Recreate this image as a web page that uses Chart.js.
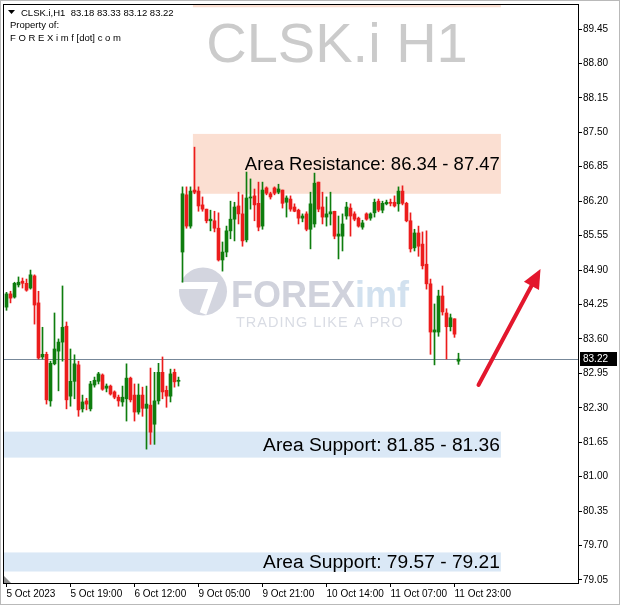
<!DOCTYPE html>
<html>
<head>
<meta charset="utf-8">
<script src="https://cdn.jsdelivr.net/npm/chart.js@4.4.0/dist/chart.umd.min.js"></script>
<style>
  html, body { margin: 0; padding: 0; background: #fff; }
</style>
</head>
<body>
<canvas id="chart" width="620" height="606"></canvas>
<script>
// CLSK.i H1 candles (oldest first)
const opens = [
  84.20, 84.45, 84.39, 84.62, 84.69, 84.65, 84.56, 84.79, 84.28, 83.26,
  83.31, 82.43, 83.13, 83.37, 83.54, 83.84, 82.52, 82.80, 83.11, 82.28,
  82.43, 82.28, 82.73, 82.80, 82.92, 82.67, 82.71, 82.60, 82.50, 82.41,
  82.47, 82.86, 82.54, 82.22, 82.54, 82.29, 82.35, 81.99, 82.43, 82.97,
  82.63, 82.52, 82.97, 82.80,
  85.24, 86.32, 85.73, 86.41, 86.39, 86.13,
  86.05, 85.83, 85.83, 85.69, 85.09, 85.24, 85.64, 85.86, 86.11, 85.96,
  85.47, 86.26, 86.30, 86.16, 85.73, 86.45, 86.34, 86.45, 86.37, 86.41,
  86.18, 86.24, 86.09, 86.03, 85.88, 85.96, 85.67, 85.77, 86.56, 86.09,
  85.90, 85.96, 86.01, 85.54, 85.54, 85.92, 86.07, 85.96, 85.88, 85.71,
  85.96, 85.88, 85.98, 86.20, 86.03, 86.15, 86.18, 86.18, 86.15, 86.39,
  86.16, 85.83, 85.32, 85.60, 85.39, 85.01, 84.64, 83.73, 83.73, 84.41,
  84.09, 83.83, 83.98, 83.18
];
const highs = [
  84.48, 84.50, 84.67, 84.77, 84.75, 84.73, 84.90, 84.81, 84.50, 83.82,
  83.35, 83.18, 84.09, 83.60, 84.60, 83.92, 83.41, 83.30, 83.18, 82.54,
  82.48, 82.80, 82.88, 82.97, 82.94, 82.75, 82.73, 82.62, 82.54, 82.71,
  83.13, 82.88, 82.75, 82.75, 82.69, 82.71, 83.05, 82.97, 83.14, 83.26,
  82.71, 83.03, 83.03, 82.88,
  86.47, 86.47, 86.47, 87.22, 86.47, 86.28,
  86.05, 86.03, 86.01, 85.98, 85.43, 85.73, 86.20, 86.18, 86.37, 86.32,
  86.75, 86.62, 86.43, 86.56, 86.56, 86.47, 86.37, 86.47, 86.52, 86.41,
  86.30, 86.30, 86.15, 86.05, 85.96, 86.00, 86.37, 86.73, 86.56, 86.37,
  86.28, 86.37, 86.01, 85.92, 85.96, 86.18, 86.15, 86.00, 85.90, 85.84,
  85.98, 85.98, 86.24, 86.24, 86.20, 86.22, 86.24, 86.30, 86.47, 86.49,
  86.18, 85.98, 85.67, 85.73, 85.62, 85.64, 84.73, 84.26, 84.52, 84.60,
  84.17, 84.07, 83.98, 83.33
];
const lows = [
  84.14, 84.28, 84.37, 84.58, 84.56, 84.50, 84.54, 83.88, 83.22, 83.22,
  82.37, 82.33, 83.11, 82.62, 83.18, 82.28, 82.33, 82.47, 82.14, 82.22,
  82.26, 82.24, 82.69, 82.75, 82.63, 82.60, 82.54, 82.47, 82.33, 82.33,
  82.05, 82.41, 82.05, 82.18, 82.14, 81.52, 81.61, 81.61, 82.37, 82.47,
  82.31, 82.41, 82.69, 82.71,
  84.67, 85.69, 85.69, 86.34, 86.01, 86.01,
  85.79, 85.64, 85.62, 85.07, 84.88, 85.15, 85.49, 85.45, 85.77, 85.35,
  85.43, 86.05, 85.83, 85.64, 85.67, 86.32, 86.24, 86.32, 86.34, 86.07,
  85.90, 86.01, 86.00, 85.77, 85.81, 85.64, 85.30, 85.71, 86.00, 85.77,
  85.73, 85.75, 85.49, 85.11, 85.26, 85.86, 85.54, 85.83, 85.71, 85.67,
  85.84, 85.84, 85.90, 86.00, 85.98, 86.13, 86.11, 86.09, 86.01, 86.13,
  85.81, 85.24, 85.26, 85.16, 84.92, 84.54, 83.31, 83.11, 83.65, 84.05,
  83.22, 83.75, 83.63, 83.12
];
const closes = [
  84.45, 84.37, 84.65, 84.67, 84.65, 84.52, 84.81, 84.24, 83.24, 83.31,
  82.45, 83.14, 83.41, 83.54, 83.82, 82.45, 82.80, 83.13, 82.26, 82.41,
  82.37, 82.75, 82.82, 82.94, 82.65, 82.71, 82.56, 82.50, 82.43, 82.50,
  82.86, 82.45, 82.22, 82.54, 82.29, 82.37, 81.84, 82.43, 82.97, 82.60,
  82.52, 82.94, 82.79, 82.82,
  86.34, 85.73, 86.39, 86.37, 86.11, 86.05,
  85.83, 85.86, 85.69, 85.09, 85.24, 85.64, 85.86, 86.09, 85.96, 85.45,
  86.26, 86.28, 86.13, 85.71, 86.41, 86.35, 86.28, 86.35, 86.43, 86.16,
  86.26, 86.05, 86.01, 85.88, 85.92, 85.67, 86.15, 86.54, 86.05, 85.90,
  85.96, 86.00, 85.54, 85.58, 85.77, 86.09, 85.92, 85.86, 85.73, 85.79,
  85.86, 85.96, 86.18, 86.03, 86.16, 86.18, 86.16, 86.11, 86.39, 86.16,
  85.83, 85.30, 85.60, 85.35, 84.98, 84.64, 83.73, 83.77, 84.41, 84.11,
  83.83, 84.00, 83.69, 83.22
];

// time axis: bar index of each label
const xTickIdx = [0, 16, 32, 48, 64, 80, 96, 112];
const xTickLabels = ['5 Oct 2023', '5 Oct 19:00', '6 Oct 12:00', '9 Oct 05:00',
  '9 Oct 21:00', '10 Oct 14:00', '11 Oct 07:00', '11 Oct 23:00'];
const yTicks = [79.05, 79.70, 80.35, 81.00, 81.65, 82.30, 82.95, 83.60, 84.25,
  84.90, 85.55, 86.20, 86.85, 87.50, 88.15, 88.80, 89.45];

// rectangles drawn on the chart (bar index from/to, price low/high)
const zoneFrom = [46.6, -2, -2, 46.6];
const zoneTo = [123.6, 123.6, 123.6, 123.6];
const zoneLow = [86.34, 81.36, 79.21, 89.86];
const zoneHigh = [87.47, 81.85, 79.57, 91.00];
const zoneText = ['Area Resistance: 86.34 - 87.47', 'Area Support: 81.85 - 81.36',
  'Area Support: 79.57 - 79.21', ''];

// hand drawn arrow (bar index, price)
const arrowX = [118, 133.5];
const arrowY = [82.73, 84.92];

const header = 'CLSK.i,H1  83.18 83.33 83.12 83.22';
const lastPrice = closes[closes.length - 1];

const upColor = '#0e7d0e';
const downColor = '#ec1c1c';
const candleIdx = opens.map((_, i) => i);
const candleColors = candleIdx.map(i => (closes[i] >= opens[i] ? upColor : downColor));

const overlay = {
  id: 'overlay',
  beforeDraw(chart) {
    const ctx = chart.ctx;
    ctx.save();
    ctx.fillStyle = '#fff';
    ctx.fillRect(0, 0, chart.width, chart.height);
    ctx.restore();
  },
  beforeDatasetsDraw(chart) {
    const { ctx, chartArea: a, scales: { x, y } } = chart;
    ctx.save();
    ctx.beginPath();
    ctx.rect(a.left, a.top, a.right - a.left, a.bottom - a.top);
    ctx.clip();

    // zones
    zoneLow.forEach((lo, k) => {
      const x0 = x.getPixelForValue(zoneFrom[k]);
      const x1 = x.getPixelForValue(zoneTo[k]);
      const y0 = y.getPixelForValue(zoneHigh[k]);
      const y1 = y.getPixelForValue(lo);
      ctx.fillStyle = k === 1 || k === 2 ? '#dae8f6' : '#fbdfd2';
      ctx.fillRect(x0, y0, x1 - x0, y1 - y0);
    });

    // big symbol watermark
    ctx.fillStyle = '#cbcbcb';
    ctx.font = '56px "Liberation Sans"';
    ctx.textAlign = 'center';
    ctx.textBaseline = 'alphabetic';
    ctx.fillText('CLSK.i H1', 337, 62);

    // FOREXimf logo watermark
    const cx = (a.left + a.right) / 2, cy = (a.top + a.bottom) / 2;
    ctx.fillStyle = '#d3d5df';
    ctx.beginPath();
    ctx.arc(cx - 88, cy - 2, 24, 0, Math.PI * 2);
    ctx.fill();
    ctx.strokeStyle = '#fff';
    ctx.lineWidth = 7;
    ctx.lineJoin = 'miter';
    ctx.beginPath();
    ctx.moveTo(cx - 113, cy - 8);
    ctx.lineTo(cx - 78, cy - 8);
    ctx.lineTo(cx - 88, cy + 20);
    ctx.stroke();
    ctx.textAlign = 'left';
    ctx.font = 'bold 36px "Liberation Sans"';
    ctx.fillStyle = '#d0d2dc';
    ctx.fillText('FOREX', cx - 60, cy + 13);
    const fw = ctx.measureText('FOREX').width;
    ctx.fillStyle = '#d2e1ef';
    ctx.fillText('imf', cx - 60 + fw, cy + 13);
    ctx.font = '14.5px "Liberation Sans"';
    ctx.fillStyle = '#d9dce4';
    ctx.letterSpacing = '1px';
    ctx.fillText('TRADING LIKE A PRO', cx - 55, cy + 33);
    ctx.letterSpacing = '0px';

    // zone captions
    ctx.fillStyle = '#000';
    ctx.textAlign = 'right';
    ctx.textBaseline = 'middle';
    zoneText.forEach((t, k) => {
      if (!t) return;
      ctx.font = (k === 0 ? 18.5 : 19.2) + 'px "Liberation Sans"';
      const yc = (y.getPixelForValue(zoneLow[k]) + y.getPixelForValue(zoneHigh[k])) / 2;
      ctx.fillText(t, x.getPixelForValue(zoneTo[k]) - 1, yc + 1);
    });

    // bid line
    const py = Math.round(y.getPixelForValue(lastPrice)) + 0.5;
    ctx.strokeStyle = '#778899';
    ctx.lineWidth = 1;
    ctx.beginPath();
    ctx.moveTo(a.left, py);
    ctx.lineTo(a.right, py);
    ctx.stroke();
    ctx.restore();
  },
  afterDatasetsDraw(chart) {
    const { ctx, chartArea: a, scales: { x, y } } = chart;
    ctx.save();

    // red arrow
    const x0 = x.getPixelForValue(arrowX[0]), y0 = y.getPixelForValue(arrowY[0]);
    const x1 = x.getPixelForValue(arrowX[1]), y1 = y.getPixelForValue(arrowY[1]);
    const ang = Math.atan2(y1 - y0, x1 - x0);
    const head = 21;
    ctx.strokeStyle = '#e3172d';
    ctx.fillStyle = '#e3172d';
    ctx.lineWidth = 4;
    ctx.lineCap = 'round';
    ctx.beginPath();
    ctx.moveTo(x0, y0);
    ctx.lineTo(x1 - Math.cos(ang) * head * 0.8, y1 - Math.sin(ang) * head * 0.8);
    ctx.stroke();
    ctx.beginPath();
    ctx.moveTo(x1, y1);
    ctx.lineTo(x1 - head * Math.cos(ang - 0.42), y1 - head * Math.sin(ang - 0.42));
    ctx.lineTo(x1 - head * Math.cos(ang + 0.42), y1 - head * Math.sin(ang + 0.42));
    ctx.closePath();
    ctx.fill();

    // frames
    ctx.strokeStyle = '#000';
    ctx.lineWidth = 1;
    ctx.strokeRect(a.left - 0.5, a.top + 0.5, a.right - a.left + 1, a.bottom - a.top);
    ctx.strokeStyle = '#b9b9b9';
    ctx.strokeRect(0.5, 0.5, chart.width - 1, chart.height - 2);

    // shift marker
    ctx.fillStyle = '#8a8a8a';
    ctx.beginPath();
    ctx.moveTo(a.left, a.bottom);
    ctx.lineTo(a.left, a.bottom - 7);
    ctx.lineTo(a.left + 7, a.bottom);
    ctx.closePath();
    ctx.fill();

    // header text
    ctx.fillStyle = '#000';
    ctx.beginPath();
    ctx.moveTo(a.left + 4, a.top + 6);
    ctx.lineTo(a.left + 11, a.top + 6);
    ctx.lineTo(a.left + 7.5, a.top + 10);
    ctx.closePath();
    ctx.fill();
    ctx.font = '9.5px "Liberation Sans"';
    ctx.textAlign = 'left';
    ctx.textBaseline = 'middle';
    ctx.fillText(header, a.left + 17, a.top + 9);
    ctx.fillText('Property of:', a.left + 6, a.top + 21);
    ctx.fillText('F O R E X i m f [dot] c o m', a.left + 6, a.top + 34);

    // price tag on the axis
    const py = Math.round(y.getPixelForValue(lastPrice));
    ctx.font = '10px "Liberation Sans"';
    ctx.fillStyle = '#000';
    ctx.fillRect(a.right + 2, py - 7, 37, 14);
    ctx.fillStyle = '#fff';
    ctx.fillText(lastPrice.toFixed(2), a.right + 5, py);
    ctx.restore();
  }
};

const axisFont = { family: 'Liberation Sans', size: 10 };

new Chart(document.getElementById('chart'), {
  type: 'bar',
  data: {
    datasets: [
      {
        label: 'body',
        data: candleIdx.map(i => ({ x: i, y: [opens[i], closes[i]] })),
        backgroundColor: candleColors,
        barThickness: 3,
        minBarLength: 1,
        grouped: false,
        borderWidth: 0
      },
      {
        label: 'wick',
        data: candleIdx.map(i => ({ x: i, y: [lows[i], highs[i]] })),
        backgroundColor: candleColors,
        barThickness: 1,
        grouped: false,
        borderWidth: 0
      }
    ]
  },
  options: {
    responsive: false,
    animation: false,
    events: [],
    layout: { padding: { left: 4, top: 4, right: 0, bottom: 0 } },
    plugins: { legend: { display: false }, tooltip: { enabled: false } },
    scales: {
      x: {
        type: 'linear',
        min: -0.625,
        max: 142.875,
        offset: false,
        grid: { offset: false, drawOnChartArea: false, drawTicks: true, tickLength: 4, color: '#000' },
        border: { display: false },
        afterBuildTicks: s => { s.ticks = xTickIdx.map(v => ({ value: v })); },
        afterFit: s => { s.height = 23; s.paddingLeft = 0; s.paddingRight = 0; },
        ticks: {
          autoSkip: false, maxRotation: 0, minRotation: 0, align: 'start', padding: 1,
          color: '#000', font: axisFont,
          callback: (v, i) => xTickLabels[i]
        }
      },
      y: {
        position: 'right',
        min: 78.993,
        max: 89.922,
        grid: { drawOnChartArea: false, drawTicks: true, tickLength: 4, color: '#000' },
        border: { display: false },
        afterBuildTicks: s => { s.ticks = yTicks.map(v => ({ value: v })); },
        afterFit: s => { s.width = 42; s.paddingTop = 0; s.paddingBottom = 0; },
        ticks: {
          autoSkip: false, padding: 1, color: '#000', font: axisFont,
          callback: v => v.toFixed(2)
        }
      }
    }
  },
  plugins: [overlay]
});
</script>
</body>
</html>
